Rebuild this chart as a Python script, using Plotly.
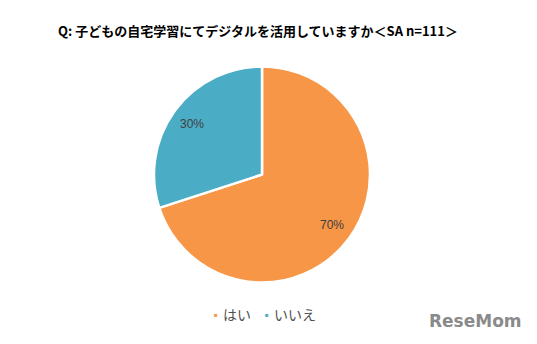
import math
import plotly.graph_objects as go

labels = ["はい", "いいえ"]
values = [70, 30]
colors = ["#F79646", "#4BACC6"]
title_text = "Q: 子どもの自宅学習にてデジタルを活用していますか＜SA n=111＞"

W, H = 537, 344
px0, px1, py0, py1 = 154, 370, 66, 283
fig = go.Figure()
fig.add_trace(go.Pie(
    labels=labels, values=values, sort=False, direction="clockwise", rotation=0,
    marker=dict(colors=colors, line=dict(color="white", width=2.5)),
    textinfo="none",
    domain=dict(x=[px0/W, px1/W], y=[(H-py1)/H, (H-py0)/H]),
    showlegend=False, hoverinfo="label+percent",
))

annotations = [dict(text="<b>" + title_text + "</b>", x=258/W, y=1-30/H, xref="paper", yref="paper",
                    showarrow=False, font=dict(family="Noto Sans CJK JP", size=13, color="#000000"),
                    xanchor="center", yanchor="middle")]

# slice labels placed along each slice's mid-angle
cx, cy, r = (px0+px1)/2, (py0+py1)/2, (px1-px0)/2
total = sum(values)
acc = 0
for v in values:
    mid = (acc + v/2) / total * 2*math.pi
    acc += v
    x = cx + 0.8*r*math.sin(mid)
    y = cy - 0.8*r*math.cos(mid)
    annotations.append(dict(text=f"{round(100*v/total)}%", x=x/W, y=1-y/H, xref="paper", yref="paper",
                            showarrow=False, font=dict(family="Liberation Sans, Arial", size=12, color="#404040"),
                            xanchor="center", yanchor="middle"))

# legend
lx = [216, 267]
for i, (lab, col) in enumerate(zip(labels, colors)):
    annotations.append(dict(text="■", x=lx[i]/W, y=1-315/H, xref="paper", yref="paper", showarrow=False,
                            font=dict(size=6, color=col), xanchor="center", yanchor="middle"))
    annotations.append(dict(text=lab, x=(lx[i]+5)/W, y=1-314/H, xref="paper", yref="paper", showarrow=False,
                            font=dict(family="Noto Sans CJK JP", size=14, color="#505050"),
                            xanchor="left", yanchor="middle"))
# watermark
annotations.append(dict(text="<b>ReseMom</b>", x=475/W, y=1-321/H, xref="paper", yref="paper", showarrow=False,
                        font=dict(family="DejaVu Sans", size=17, color="#8a8a8a"), xanchor="center", yanchor="middle"))

fig.update_layout(width=W, height=H, margin=dict(l=0, r=0, t=0, b=0),
                  paper_bgcolor="white", plot_bgcolor="white", annotations=annotations)
fig.write_html("out.html")
